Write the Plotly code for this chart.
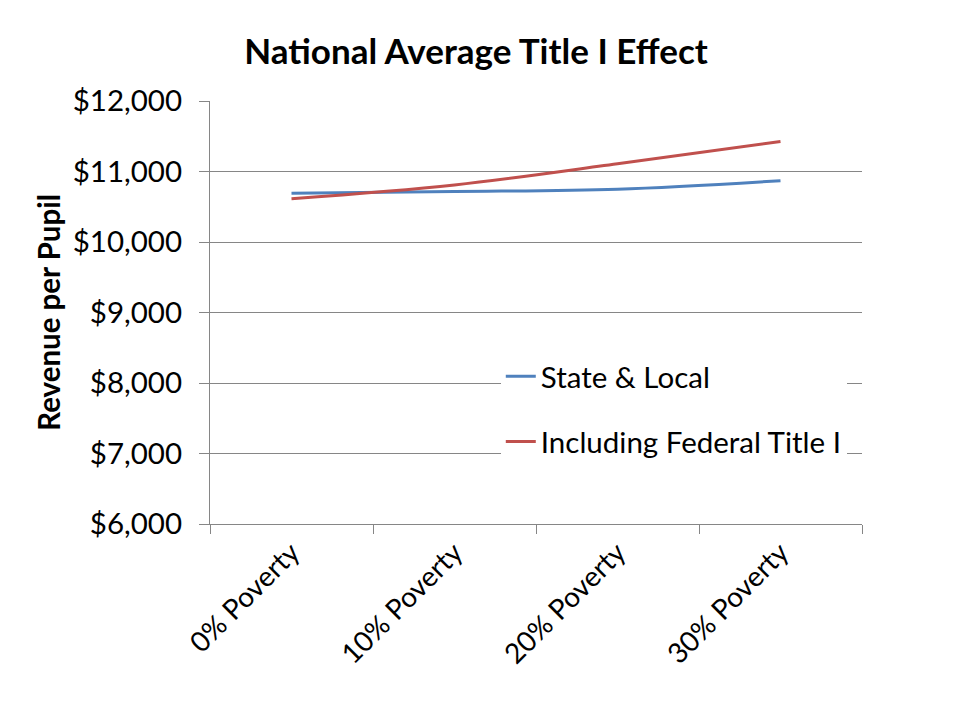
import plotly.graph_objects as go

categories = ["0% Poverty", "10% Poverty", "20% Poverty", "30% Poverty"]
state_local = [10690, 10715, 10750, 10870]
incl_federal = [10615, 10810, 11110, 11425]
y_ticks = [6000, 7000, 8000, 9000, 10000, 11000, 12000]
y_tick_labels = ["$6,000", "$7,000", "$8,000", "$9,000", "$10,000", "$11,000", "$12,000"]

FONT = "Lato"

fig = go.Figure()
fig.add_trace(go.Scatter(x=categories, y=state_local, mode="lines", name="State & Local",
                         line=dict(color="#4F81BD", width=3, shape="spline"),
                         legendgroup="a"))
fig.add_trace(go.Scatter(x=categories, y=incl_federal, mode="lines", name="Including Federal Title I",
                         line=dict(color="#C0504D", width=3, shape="spline"),
                         legendgroup="b"))

fig.update_layout(
    width=960, height=720,
    paper_bgcolor="white", plot_bgcolor="white",
    margin=dict(l=202, r=106, t=93, b=204),
    font=dict(family=FONT, color="black"),
    title=dict(text="<b>National Average Title I Effect</b>", x=0.408, xref="paper", xanchor="center",
               y=0.939, yref="container", yanchor="middle",
               font=dict(family=FONT, size=35, color="black")),
    xaxis=dict(type="category", range=[-0.5, 3.5], tickson="boundaries",
               ticks="outside", ticklen=9, tickcolor="#868686",
               showline=True, linecolor="#868686", linewidth=1,
               showgrid=False, tickangle=-45,
               tickfont=dict(family=FONT, size=28, color="black")),
    yaxis=dict(range=[6000, 12000], tickvals=y_ticks, ticktext=y_tick_labels,
               ticks="outside", ticklen=10, tickcolor="#868686",
               ticklabelstandoff=11,
               showline=True, linecolor="#868686", linewidth=1,
               showgrid=True, gridcolor="#868686", gridwidth=1,
               zeroline=False,
               tickfont=dict(family=FONT, size=29.5, color="black")),
    legend=dict(x=0.446, xanchor="left", y=0.41, yanchor="top",
                bgcolor="white", borderwidth=0,
                traceorder="grouped", tracegroupgap=24,
                font=dict(family=FONT, size=29.5, color="black")),
    annotations=[dict(text="<b>Revenue per Pupil</b>", xref="paper", yref="paper",
                      x=-0.248, y=0.5, xanchor="center", yanchor="middle",
                      textangle=-90, showarrow=False,
                      font=dict(family=FONT, size=29.5, color="black"))],
    showlegend=True,
)

fig.write_html("out.html")
